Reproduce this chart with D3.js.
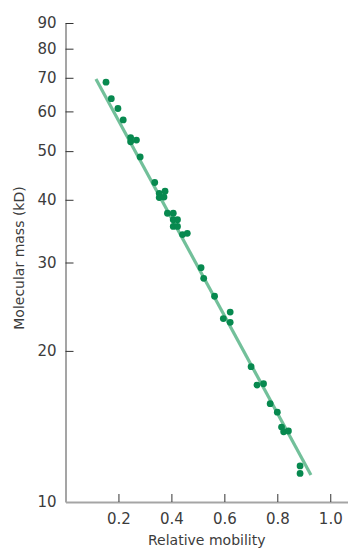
<!DOCTYPE html>
<html>
<head>
  <meta charset="utf-8">
  <title>Molecular mass vs relative mobility</title>
  <script src="https://d3js.org/d3.v7.min.js"></script>
  <style>
    body { margin: 0; background: #fff; }
    text { font-family: "DejaVu Sans", sans-serif; fill: #3c3c3c; }
  </style>
</head>
<body>
  <script>
    // data
    var mobility = [0.153, 0.173, 0.198, 0.218, 0.246, 0.246, 0.268, 0.282,
      0.337, 0.354, 0.376, 0.354, 0.372, 0.385, 0.407, 0.407, 0.423, 0.407, 0.423,
      0.442, 0.460, 0.512, 0.522, 0.563, 0.622, 0.596, 0.622,
      0.701, 0.723, 0.748, 0.773, 0.800, 0.816, 0.824, 0.842, 0.886, 0.886];
    var mass = [68.6, 63.6, 60.8, 57.7, 53.2, 52.2, 52.6, 48.7,
      43.3, 41.2, 41.6, 40.4, 40.5, 37.6, 37.6, 36.5, 36.5, 35.4, 35.4,
      34.1, 34.3, 29.3, 27.9, 25.7, 23.9, 23.2, 22.8,
      18.6, 17.1, 17.2, 15.7, 15.1, 14.1, 13.8, 13.85, 11.8, 11.4];
    var fitX = [0.115, 0.927];
    var fitY = [69.6, 11.32];
    var xTicks = [0.2, 0.4, 0.6, 0.8, 1.0];
    var yTicks = [10, 20, 30, 40, 50, 60, 70, 80, 90];

    var width = 348, height = 549;
    var mLeft = 65.5, mRight = 348, mTop = 23, mBottom = 502;

    var svg = d3.select("body").append("svg").attr("width", width).attr("height", height);

    var x = d3.scaleLinear().domain([0, 1.067]).range([mLeft, mRight]);
    var y = d3.scaleLog().domain([10, 90]).range([mBottom, mTop]);

    // axes, ticks point inward
    var gy = svg.append("g")
      .attr("transform", "translate(" + mLeft + ",0)")
      .call(d3.axisLeft(y).tickValues(yTicks).tickFormat(d3.format("d"))
        .tickSizeInner(-8).tickSizeOuter(0).tickPadding(9));
    var gx = svg.append("g")
      .attr("transform", "translate(0," + mBottom + ")")
      .call(d3.axisBottom(x).tickValues(xTicks).tickFormat(d3.format(".1f"))
        .tickSizeInner(-8).tickSizeOuter(0).tickPadding(11));

    [gx, gy].forEach(function (g) {
      g.select(".domain").attr("stroke", "#a5a5a5").attr("stroke-width", 2);
      g.selectAll(".tick line").attr("stroke", "#333");
      g.selectAll(".tick text").attr("font-size", 15).attr("fill", "#3c3c3c")
        .style("font-family", "DejaVu Sans, sans-serif");
    });
    gy.selectAll(".tick").filter(function (d) { return d === 10; }).select("line").remove();

    // fitted line
    svg.append("line")
      .attr("x1", x(fitX[0])).attr("y1", y(fitY[0]))
      .attr("x2", x(fitX[1])).attr("y2", y(fitY[1]))
      .attr("stroke", "#72c09a").attr("stroke-width", 3.2);

    // points
    svg.append("g").selectAll("circle")
      .data(mobility)
      .enter().append("circle")
      .attr("cx", function (d) { return x(d); })
      .attr("cy", function (d, i) { return y(mass[i]); })
      .attr("r", 3.4)
      .attr("fill", "#07894f");

    // axis titles
    svg.append("text")
      .attr("x", (mLeft + mRight) / 2).attr("y", 545)
      .attr("text-anchor", "middle").attr("font-size", 14)
      .text("Relative mobility");
    svg.append("text")
      .attr("transform", "translate(24,258) rotate(-90)")
      .attr("text-anchor", "middle").attr("font-size", 14)
      .text("Molecular mass (kD)");
  </script>
</body>
</html>
